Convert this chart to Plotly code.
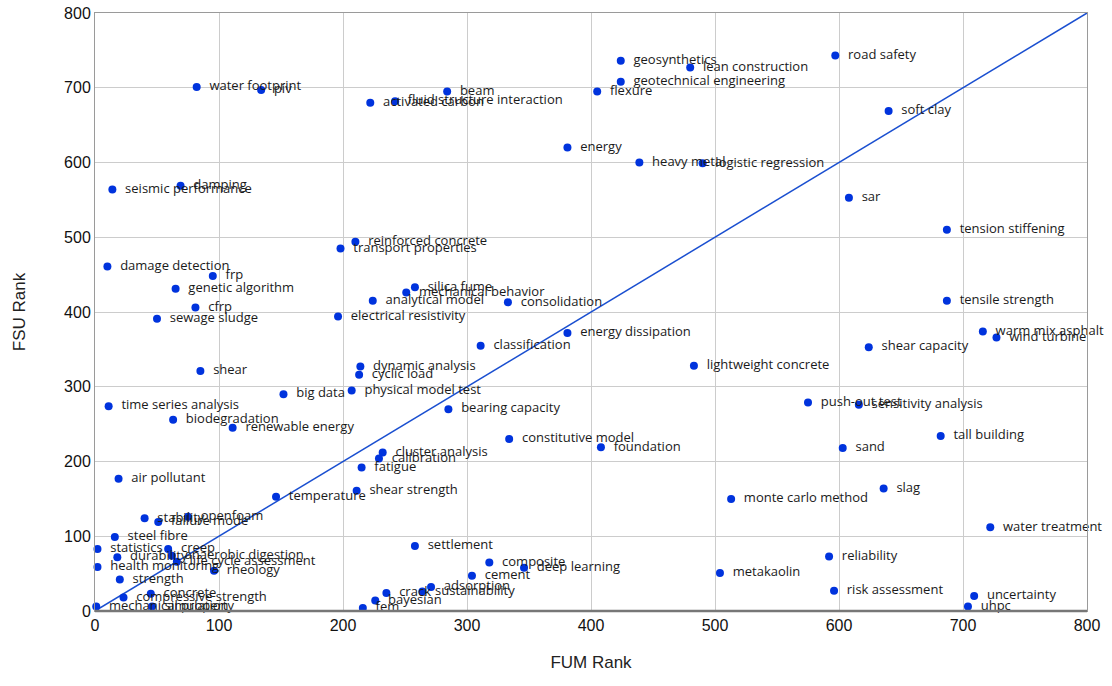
import plotly.graph_objects as go

labels = [
    "water footprint", "piv", "beam", "activated carbon", "fluid structure interaction",
    "geosynthetics", "lean construction", "geotechnical engineering", "flexure", "road safety",
    "soft clay", "energy", "heavy metal", "logistic regression", "sar",
    "tension stiffening", "seismic performance", "damping", "reinforced concrete", "transport properties",
    "damage detection", "frp", "genetic algorithm", "cfrp", "sewage sludge",
    "silica fume", "mechanical behavior", "analytical model", "consolidation", "electrical resistivity",
    "tensile strength", "energy dissipation", "warm mix asphalt", "wind turbine", "classification",
    "shear capacity", "shear", "dynamic analysis", "cyclic load", "lightweight concrete",
    "big data", "physical model test", "time series analysis", "bearing capacity", "push-out test",
    "sensitivity analysis", "biodegradation", "renewable energy", "constitutive model", "foundation",
    "tall building", "sand", "cluster analysis", "calibration", "fatigue",
    "air pollutant", "shear strength", "temperature", "slag", "monte carlo method",
    "stability", "openfoam", "failure mode", "water treatment", "steel fibre",
    "statistics", "creep", "durability", "anaerobic digestion", "life cycle assessment",
    "health monitoring", "rheology", "settlement", "composite", "deep learning",
    "reliability", "cement", "metakaolin", "strength", "adsorption",
    "sustainability", "crack", "risk assessment", "uncertainty", "concrete",
    "compressive strength", "bayesian", "mechanical property", "simulation", "fem",
    "uhpc",
]

fum_rank = [
    82, 134, 284, 222, 242,
    424, 480, 424, 405, 597,
    640, 381, 439, 490, 608,
    687, 14, 69, 210, 198,
    10, 95, 65, 81, 50,
    258, 251, 224, 333, 196,
    687, 381, 716, 727, 311,
    624, 85, 214, 213, 483,
    152, 207, 11, 285, 575,
    616, 63, 111, 334, 408,
    682, 603, 232, 229, 215,
    19, 211, 146, 636, 513,
    40, 75, 51, 722, 16,
    2, 59, 18, 62, 66,
    2, 96, 258, 318, 346,
    592, 304, 504, 20, 271,
    264, 235, 596, 709, 45,
    23, 226, 1, 46, 216,
    704,
]

fsu_rank = [
    701, 697, 695, 680, 682,
    736, 727, 708, 695, 743,
    669, 620, 600, 599, 553,
    510, 564, 569, 494, 485,
    461, 448, 431, 406, 391,
    433, 426, 415, 413, 394,
    415, 372, 374, 366, 355,
    353, 321, 327, 316, 328,
    290, 295, 274, 270, 279,
    276, 256, 245, 230, 219,
    234, 218, 212, 204, 192,
    177, 161, 153, 164, 150,
    124, 126, 119, 112, 99,
    83, 83, 72, 74, 66,
    59, 54, 87, 65, 58,
    73, 47, 51, 42, 32,
    26, 24, 27, 20, 23,
    18, 14, 6, 6, 4,
    6,
]

diag_x = [0, 800]
diag_y = [0, 800]

tick_vals = [0, 100, 200, 300, 400, 500, 600, 700, 800]

fig = go.Figure()

fig.add_trace(go.Scatter(
    x=diag_x, y=diag_y, mode="lines",
    line=dict(color="#1a4fd0", width=1.5),
    hoverinfo="skip", showlegend=False,
))

fig.add_trace(go.Scatter(
    x=fum_rank, y=fsu_rank, mode="markers+text",
    text=labels, texttemplate="  %{text}", textposition="middle right",
    textfont=dict(family="Open Sans", size=13, color="#1a1a1a"),
    marker=dict(color="#0033dd", size=8),
    showlegend=False, cliponaxis=False,
))

axis_common = dict(
    range=[0, 800], tickvals=tick_vals, showgrid=True, gridcolor="#cccccc", gridwidth=1,
    zeroline=False, showline=True, linecolor="#9a9a9a", linewidth=1, mirror=True,
    tickfont=dict(family="Liberation Sans, Arial", size=16, color="#111"),
    title_font=dict(family="Liberation Sans, Arial", size=17, color="#222"),
    fixedrange=True, automargin=False, ticklabeloverflow="allow",
)

fig.update_xaxes(title_text="FUM Rank", title_standoff=22, **axis_common)
fig.update_yaxes(title_text="FSU Rank", title_standoff=34, **axis_common)

fig.add_shape(type="line", xref="paper", yref="paper", x0=0, x1=1, y0=0, y1=0,
              line=dict(color="#777", width=2.5))

fig.update_layout(
    width=1112, height=686,
    margin=dict(l=95, r=25, t=13, b=75, autoexpand=False),
    plot_bgcolor="white", paper_bgcolor="white",
)

fig.write_html("out.html", config={"displayModeBar": False},
               post_script="document.body.style.margin='0';")
